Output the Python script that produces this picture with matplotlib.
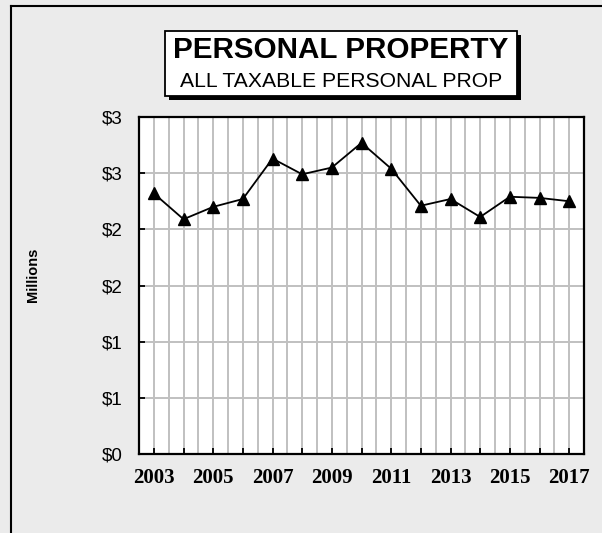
import matplotlib
matplotlib.use('Agg')
import matplotlib.pyplot as plt
from matplotlib.patches import Rectangle
from matplotlib.lines import Line2D
import numpy as np

years = [2003, 2004, 2005, 2006, 2007, 2008, 2009, 2010, 2011, 2012, 2013, 2014, 2015, 2016, 2017]
values = [2.32, 2.09, 2.20, 2.27, 2.63, 2.49, 2.55, 2.77, 2.54, 2.21, 2.27, 2.11, 2.29, 2.28, 2.25]
yticks = [0, 0.5, 1.0, 1.5, 2.0, 2.5, 3.0]
ytick_labels = ['$0', '$1', '$1', '$2', '$2', '$3', '$3']
title = 'PERSONAL PROPERTY'
subtitle = 'ALL TAXABLE PERSONAL PROP'

bg = '#ebebeb'
fig = plt.figure(figsize=(6.02, 5.33), dpi=100, facecolor=bg)

# outer frame (left + top only visible)
fig.add_artist(Line2D([11/602, 11/602], [0, 1 - 6/533], color='black', lw=1.5, transform=fig.transFigure))
fig.add_artist(Line2D([11/602, 1], [1 - 6/533, 1 - 6/533], color='black', lw=1.5, transform=fig.transFigure))

ax = fig.add_axes([139/602, 1 - 454/533, 445/602, 337/533])
ax.set_facecolor('white')
x = np.arange(len(years))

# grid at category centres and boundaries
for gx in np.arange(-0.5, len(years), 0.5)[1:]:
    ax.axvline(gx, color='#c0c0c0', lw=1.4, zorder=1)
for gy in yticks[1:-1]:
    ax.axhline(gy, color='#c0c0c0', lw=1.4, zorder=1)

ax.plot(x, values, color='black', lw=1.3, marker='^', markersize=8, zorder=3)

ax.set_xlim(-0.5, len(years) - 0.5)
ax.set_ylim(0, 3.0)
ax.set_xticks(x)
ax.set_xticklabels([str(y) if i % 2 == 0 else '' for i, y in enumerate(years)],
                   fontfamily='Liberation Serif', fontweight='bold', fontsize=15)
ax.set_yticks(yticks)
ax.set_yticklabels(ytick_labels, fontfamily='Liberation Sans', fontsize=13.5)
ax.tick_params(axis='both', direction='in', length=4, width=1.3, colors='black')
ax.tick_params(axis='x', pad=10)
ax.tick_params(axis='y', pad=11.5)
for s in ax.spines.values():
    s.set_linewidth(1.6)
    s.set_color('black')
    s.set_zorder(4)

fig.text(33/602, 1 - 275/533, 'Millions', rotation=90, ha='center', va='center',
         fontfamily='Liberation Sans', fontweight='bold', fontsize=10.5)

# title box with shadow
bx0, by0, bw, bh = 165/602, 1 - 96/533, 352/602, 65/533
fig.add_artist(Rectangle((bx0 + 4/602, by0 - 4/533), bw, bh, transform=fig.transFigure,
                         facecolor='black', edgecolor='black', lw=0))
fig.add_artist(Rectangle((bx0, by0), bw, bh, transform=fig.transFigure,
                         facecolor='white', edgecolor='black', lw=1.3))
fig.text(341/602, 1 - 50/533, title, ha='center', va='center',
         fontfamily='Liberation Sans', fontweight='bold', fontsize=21.3)
fig.text(341/602, 1 - 81/533, subtitle, ha='center', va='center',
         fontfamily='Liberation Sans', fontsize=15.2)

fig.savefig('out.png', dpi=100, facecolor=bg)
